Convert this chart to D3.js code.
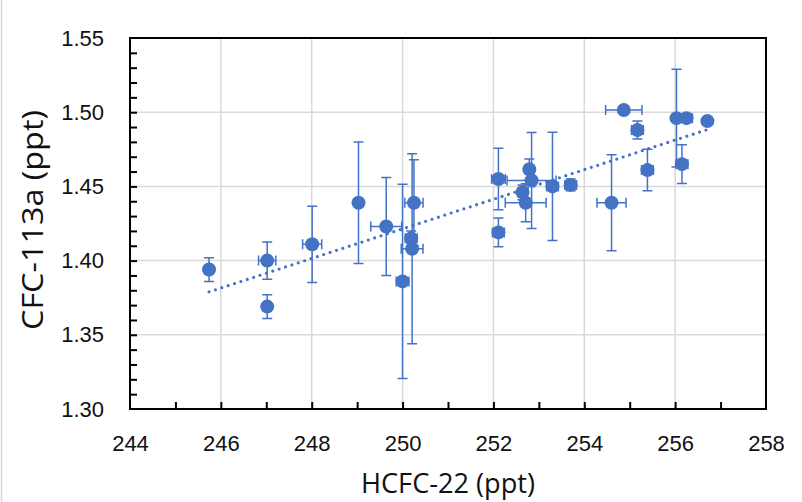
<!DOCTYPE html>
<html>
<head>
<meta charset="utf-8">
<script src="https://cdn.jsdelivr.net/npm/d3@7"></script>
<style>
  body { margin: 0; background: #fff; }
  svg { display: block; }
</style>
</head>
<body>
<div class="chart"></div>
<script>
const WIDTH = 802;
const HEIGHT = 502;
const LEFT = 130, RIGHT = 766, TOP = 38, BOTTOM = 409;
const BLUE = '#4472C4';

// HCFC-22 (ppt) vs CFC-113a (ppt), with error bars
var xValues = [245.74, 247.02, 247.02, 248.01, 249.03, 249.64, 250.00, 250.19, 250.21, 250.25,
               252.11, 252.11, 252.64, 252.71, 252.79, 252.84, 253.30, 253.70,
               254.60, 254.87, 255.17, 255.39, 256.03, 256.15, 256.25, 256.71];
var yValues = [1.394, 1.400, 1.369, 1.411, 1.439, 1.423, 1.386, 1.415, 1.408, 1.439,
               1.455, 1.419, 1.446, 1.439, 1.4615, 1.454, 1.450, 1.451,
               1.439, 1.5015, 1.488, 1.461, 1.496, 1.465, 1.496, 1.494];
var xErrors = [0, 0.19, 0, 0.21, 0, 0.34, 0.14, 0.13, 0.24, 0.20,
               0.15, 0.13, 0.10, 0.45, 0.10, 0.54, 0.13, 0.13,
               0.32, 0.40, 0.13, 0.13, 0, 0.13, 0.13, 0];
var yErrors = [0.008, 0.0125, 0.008, 0.0257, 0.041, 0.033, 0.0655, 0.005, 0.064, 0.029,
               0.0207, 0.0097, 0.005, 0.0128, 0.007, 0.0323, 0.0365, 0.004,
               0.0324, 0.002, 0.006, 0.014, 0.033, 0.013, 0.003, 0];

var xTicks = [244, 246, 248, 250, 252, 254, 256, 258];
var yTicks = [1.30, 1.35, 1.40, 1.45, 1.50, 1.55];

var points = xValues.map(function (x, i) {
    return {x: x, y: yValues[i], xe: xErrors[i], ye: yErrors[i]};
});

var x = d3.scaleLinear().domain([244, 258]).range([LEFT, RIGHT]);
var y = d3.scaleLinear().domain([1.30, 1.55]).range([BOTTOM, TOP]);

var svg = d3.select('.chart').append('svg')
    .attr('width', WIDTH)
    .attr('height', HEIGHT)
    .style('font-family', '"Open Sans", "Noto Sans", sans-serif');

// faint chart-area edge on the left
svg.append('line')
    .attr('x1', 1.5).attr('x2', 1.5).attr('y1', 0).attr('y2', HEIGHT)
    .attr('stroke', '#d9d9d9').attr('stroke-width', 1.5);

// gridlines
var grid = svg.append('g');
grid.selectAll('.vg').data(xTicks.slice(1, -1)).enter().append('line')
    .attr('x1', d => x(d)).attr('x2', d => x(d))
    .attr('y1', TOP).attr('y2', BOTTOM)
    .attr('stroke', '#d9d9d9').attr('stroke-width', 1.5);
grid.selectAll('.hg').data(yTicks.slice(1, -1)).enter().append('line')
    .attr('x1', LEFT).attr('x2', RIGHT)
    .attr('y1', d => y(d)).attr('y2', d => y(d))
    .attr('stroke', '#d9d9d9').attr('stroke-width', 1.5);

// minor ticks, pointing inwards
var xMinor = d3.axisBottom(x).tickValues(d3.range(245, 258, 1)).tickSize(-7).tickFormat('');
var yMinor = d3.axisLeft(y).tickValues(d3.range(131, 155, 1).map(d => d / 100)).tickSize(-7).tickFormat('');
svg.append('g').attr('transform', 'translate(0,' + BOTTOM + ')').call(xMinor)
    .call(g => g.select('.domain').remove())
    .selectAll('line').attr('stroke', '#000').attr('stroke-width', 2);
svg.append('g').attr('transform', 'translate(' + LEFT + ',0)').call(yMinor)
    .call(g => g.select('.domain').remove())
    .selectAll('line').attr('stroke', '#000').attr('stroke-width', 2);

// tick labels
var xAxis = d3.axisBottom(x).tickValues(xTicks).tickSize(0).tickPadding(26).tickFormat(d3.format('d'));
var yAxis = d3.axisLeft(y).tickValues(yTicks).tickSize(0).tickPadding(26).tickFormat(d3.format('.2f'));
svg.append('g').attr('transform', 'translate(0,' + BOTTOM + ')').call(xAxis)
    .call(g => g.select('.domain').remove())
    .selectAll('text').attr('font-size', 22).attr('fill', '#111').attr('font-family', null);
svg.append('g').attr('transform', 'translate(' + LEFT + ',0)').call(yAxis)
    .call(g => g.select('.domain').remove())
    .selectAll('text').attr('font-size', 22).attr('fill', '#111').attr('font-family', null);

// plot box
svg.append('rect')
    .attr('x', LEFT).attr('y', TOP)
    .attr('width', RIGHT - LEFT).attr('height', BOTTOM - TOP)
    .attr('fill', 'none').attr('stroke', '#000').attr('stroke-width', 2);

// error bars
var eb = svg.append('g').attr('stroke', BLUE).attr('stroke-width', 1.5).attr('fill', 'none');
points.forEach(function (p) {
    var cx = x(p.x), cy = y(p.y);
    if (p.ye > 0) {
        var y1 = y(p.y + p.ye), y2 = y(p.y - p.ye);
        eb.append('path').attr('d',
            'M' + cx + ',' + y1 + 'V' + y2 +
            'M' + (cx - 5) + ',' + y1 + 'H' + (cx + 5) +
            'M' + (cx - 5) + ',' + y2 + 'H' + (cx + 5));
    }
    if (p.xe > 0) {
        var x1 = x(p.x - p.xe), x2 = x(p.x + p.xe);
        eb.append('path').attr('d',
            'M' + x1 + ',' + cy + 'H' + x2 +
            'M' + x1 + ',' + (cy - 5) + 'V' + (cy + 5) +
            'M' + x2 + ',' + (cy - 5) + 'V' + (cy + 5));
    }
});

// markers
svg.append('g').selectAll('circle').data(points).enter().append('circle')
    .attr('cx', d => x(d.x)).attr('cy', d => y(d.y))
    .attr('r', 7).attr('fill', BLUE);

// linear trendline (least squares)
var mx = d3.mean(xValues), my = d3.mean(yValues);
var sxy = d3.sum(points, d => (d.x - mx) * (d.y - my));
var sxx = d3.sum(points, d => (d.x - mx) * (d.x - mx));
var slope = sxy / sxx, icpt = my - slope * mx;
var ext = d3.extent(xValues);
var trend = d3.line().x(d => x(d)).y(d => y(icpt + slope * d));
svg.append('path')
    .attr('d', trend(ext))
    .attr('stroke', BLUE).attr('stroke-width', 3.2)
    .attr('stroke-dasharray', '0 6.7').attr('stroke-linecap', 'round')
    .attr('fill', 'none');

// axis titles
svg.append('text')
    .attr('x', (LEFT + RIGHT) / 2).attr('y', 493)
    .attr('text-anchor', 'middle').attr('font-size', 28).attr('fill', '#111')
    .attr('textLength', 174).attr('lengthAdjust', 'spacingAndGlyphs')
    .text('HCFC-22 (ppt)');
svg.append('text')
    .attr('transform', 'translate(43,220) rotate(-90)')
    .attr('text-anchor', 'middle').attr('font-size', 30).attr('fill', '#111')
    .attr('textLength', 220).attr('lengthAdjust', 'spacingAndGlyphs')
    .text('CFC-113a (ppt)');
</script>
</body>
</html>
